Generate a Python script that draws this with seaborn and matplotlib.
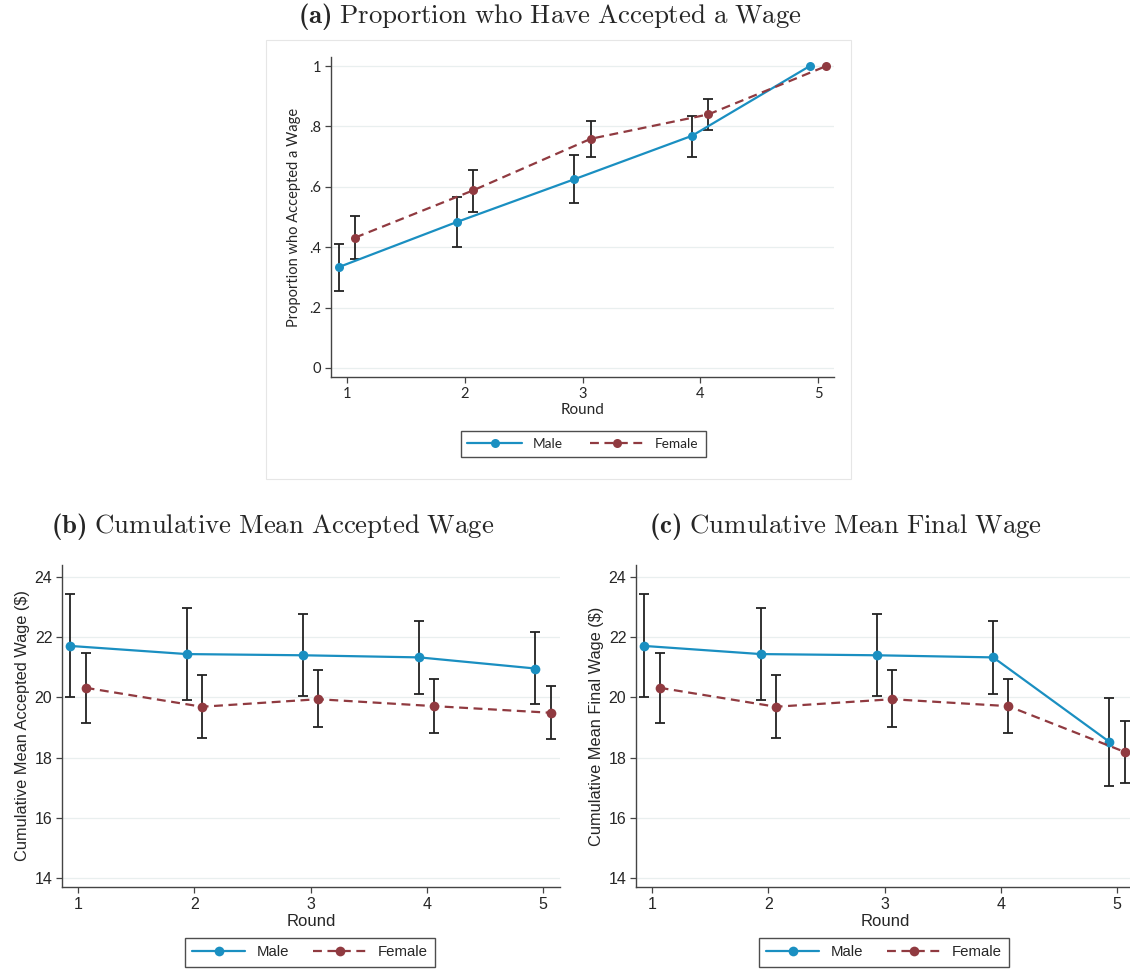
import numpy as np
import pandas as pd
import matplotlib
matplotlib.use("Agg")
import matplotlib.pyplot as plt
from matplotlib.patches import Rectangle
import seaborn as sns

# ---------------- data ----------------
rounds = [1, 2, 3, 4, 5]
round_labels = ["1", "2", "3", "4", "5"]
groups = ["Male", "Female"]

# (a) proportion who accepted a wage
prop_male = [0.334, 0.483, 0.625, 0.769, 1.0]
prop_male_lo = [0.256, 0.402, 0.547, 0.700, np.nan]
prop_male_hi = [0.410, 0.565, 0.704, 0.836, np.nan]
prop_female = [0.432, 0.588, 0.759, 0.840, 1.0]
prop_female_lo = [0.361, 0.518, 0.699, 0.788, np.nan]
prop_female_hi = [0.502, 0.657, 0.819, 0.891, np.nan]

# (b) cumulative mean accepted wage
acc_male = [21.71, 21.44, 21.40, 21.33, 20.96]
acc_male_lo = [20.00, 19.91, 20.06, 20.12, 19.77]
acc_male_hi = [23.45, 22.97, 22.76, 22.55, 22.17]
acc_female = [20.32, 19.69, 19.94, 19.71, 19.49]
acc_female_lo = [19.16, 18.66, 19.02, 18.82, 18.62]
acc_female_hi = [21.48, 20.74, 20.90, 20.62, 20.38]

# (c) cumulative mean final wage
fin_male = [21.71, 21.44, 21.40, 21.33, 18.52]
fin_male_lo = [20.00, 19.91, 20.06, 20.12, 17.05]
fin_male_hi = [23.45, 22.97, 22.76, 22.55, 19.99]
fin_female = [20.32, 19.69, 19.94, 19.71, 18.19]
fin_female_lo = [19.16, 18.66, 19.02, 18.82, 17.15]
fin_female_hi = [21.48, 20.74, 20.90, 20.62, 19.22]

prop_ticks = [0, 0.2, 0.4, 0.6, 0.8, 1.0]
prop_tick_labels = ["0", ".2", ".4", ".6", ".8", "1"]
wage_ticks = [14, 16, 18, 20, 22, 24]
wage_tick_labels = ["14", "16", "18", "20", "22", "24"]

# ---------------- style ----------------
sns.set_theme(style="white")
plt.rcParams["mathtext.fontset"] = "custom"
plt.rcParams["mathtext.rm"] = "cmr10"
plt.rcParams["mathtext.bf"] = "cmb10"
plt.rcParams["mathtext.it"] = "cmmi10"

C_MALE = "#1a8fc1"
C_FEMALE = "#903a40"
C_ERR = "#222222"
C_GRID = "#e9efef"
C_SPINE = "#444444"

fig = plt.figure(figsize=(11.3, 9.69), dpi=100)
W, H = 1130, 969


def axes_px(l, t, r, b):
    return fig.add_axes([l / W, 1 - b / H, (r - l) / W, (b - t) / H])


# background box of panel (a)
fig.patches.append(Rectangle((266 / W, 1 - 479 / H), (851 - 266) / W, (479 - 40) / H,
                             transform=fig.transFigure, facecolor="none",
                             edgecolor="#e6e6e6", linewidth=0.8))


def draw_panel(ax, male, mlo, mhi, female, flo, fhi, dodge, font, fsize, ms):
    x = np.array(rounds, dtype=float)
    xm = x - dodge
    xf = x + dodge
    male = np.array(male); female = np.array(female)
    mlo = np.array(mlo); mhi = np.array(mhi); flo = np.array(flo); fhi = np.array(fhi)
    # error bars
    for xx, y, lo, hi in [(xm, male, mlo, mhi), (xf, female, flo, fhi)]:
        ok = ~np.isnan(lo)
        ax.errorbar(xx[ok], y[ok], yerr=[y[ok] - lo[ok], hi[ok] - y[ok]], fmt="none",
                    ecolor=C_ERR, elinewidth=1.3, capsize=3.5, capthick=1.3, zorder=2)
    sns.lineplot(x=xm, y=male, ax=ax, color=C_MALE, marker="o", markersize=ms,
                 markeredgewidth=0, linewidth=1.6, label="Male", errorbar=None,
                 sort=False, zorder=3)
    sns.lineplot(x=xf, y=female, ax=ax, color=C_FEMALE, marker="o", markersize=ms,
                 markeredgewidth=0, linewidth=1.6, linestyle=(0, (4, 2.5)),
                 label="Female", errorbar=None, sort=False, zorder=3)
    ax.set_xticks(rounds)
    ax.set_xticklabels(round_labels, fontfamily=font, fontsize=fsize)
    for s in ["top", "right"]:
        ax.spines[s].set_visible(False)
    for s in ["left", "bottom"]:
        ax.spines[s].set_color(C_SPINE)
        ax.spines[s].set_linewidth(1.0)
    ax.tick_params(axis="both", which="both", direction="out", length=4, width=0.9,
                   color=C_SPINE, left=True, bottom=True, pad=3)
    ax.yaxis.grid(True, color=C_GRID, linewidth=0.9)
    ax.xaxis.grid(False)
    ax.set_axisbelow(True)
    ax.set_facecolor("white")
    ax.set_xlabel("Round", fontfamily=font, fontsize=fsize + 0.5, labelpad=2)
    handles, labels = ax.get_legend_handles_labels()
    ax.get_legend().remove()
    return handles, labels


def add_legend(handles, labels, cx, cy, font, fsize, hl=4.0, cs=2.0):
    leg = fig.legend(handles, labels, loc="center", bbox_to_anchor=(cx / W, 1 - cy / H),
                     ncol=2, frameon=True, fancybox=False, handlelength=hl,
                     columnspacing=cs, handletextpad=0.8, borderpad=0.5,
                     prop={"family": font, "size": fsize}, numpoints=1)
    leg.get_frame().set_edgecolor("#222222")
    leg.get_frame().set_linewidth(1.0)
    return leg


# ---------- panel (a) ----------
fa = "Lato"
axa = axes_px(331, 57, 834, 377)
h, l = draw_panel(axa, prop_male, prop_male_lo, prop_male_hi,
                  prop_female, prop_female_lo, prop_female_hi, 0.07, fa, 10.5, 6.5)
axa.set_xlim(0.864, 5.136)
axa.set_ylim(-0.03, 1.03)
axa.set_yticks(prop_ticks)
axa.set_yticklabels(prop_tick_labels, fontfamily=fa, fontsize=10.5)
axa.set_ylabel("Proportion who Accepted a Wage", fontfamily=fa, fontsize=10.5, labelpad=6)
add_legend(h, l, 583, 444, fa, 9.8)

# ---------- panel (b) ----------
fb = "Liberation Sans"
axb = axes_px(62, 565, 560, 887)
h, l = draw_panel(axb, acc_male, acc_male_lo, acc_male_hi,
                  acc_female, acc_female_lo, acc_female_hi, 0.065, fb, 11.5, 7)
axb.set_xlim(0.862, 5.146)
axb.set_ylim(13.70, 24.40)
axb.set_yticks(wage_ticks)
axb.set_yticklabels(wage_tick_labels, fontfamily=fb, fontsize=11.5)
axb.set_ylabel("Cumulative Mean Accepted Wage ($)", fontfamily=fb, fontsize=11.8, labelpad=3)
add_legend(h, l, 310, 952, fb, 10.8, hl=3.5, cs=1.6)

# ---------- panel (c) ----------
axc = axes_px(636, 565, 1134, 887)
h, l = draw_panel(axc, fin_male, fin_male_lo, fin_male_hi,
                  fin_female, fin_female_lo, fin_female_hi, 0.065, fb, 11.5, 7)
axc.set_xlim(0.862, 5.146)
axc.set_ylim(13.70, 24.40)
axc.set_yticks(wage_ticks)
axc.set_yticklabels(wage_tick_labels, fontfamily=fb, fontsize=11.5)
axc.set_ylabel("Cumulative Mean Final Wage ($)", fontfamily=fb, fontsize=11.8, labelpad=3)
add_legend(h, l, 884, 952, fb, 10.8, hl=3.5, cs=1.6)

# ---------- titles ----------
TS = 19.3
fig.text(550 / W, 1 - 16 / H,
         r"$\mathbf{(a)}\ \mathrm{Proportion\ who\ Have\ Accepted\ a\ Wage}$",
         ha="center", va="center", fontsize=TS)
fig.text(273 / W, 1 - 527 / H,
         r"$\mathbf{(b)}\ \mathrm{Cumulative\ Mean\ Accepted\ Wage}$",
         ha="center", va="center", fontsize=TS)
fig.text(845 / W, 1 - 527 / H,
         r"$\mathbf{(c)}\ \mathrm{Cumulative\ Mean\ Final\ Wage}$",
         ha="center", va="center", fontsize=TS)

fig.savefig("out.png", dpi=100, facecolor="white")
